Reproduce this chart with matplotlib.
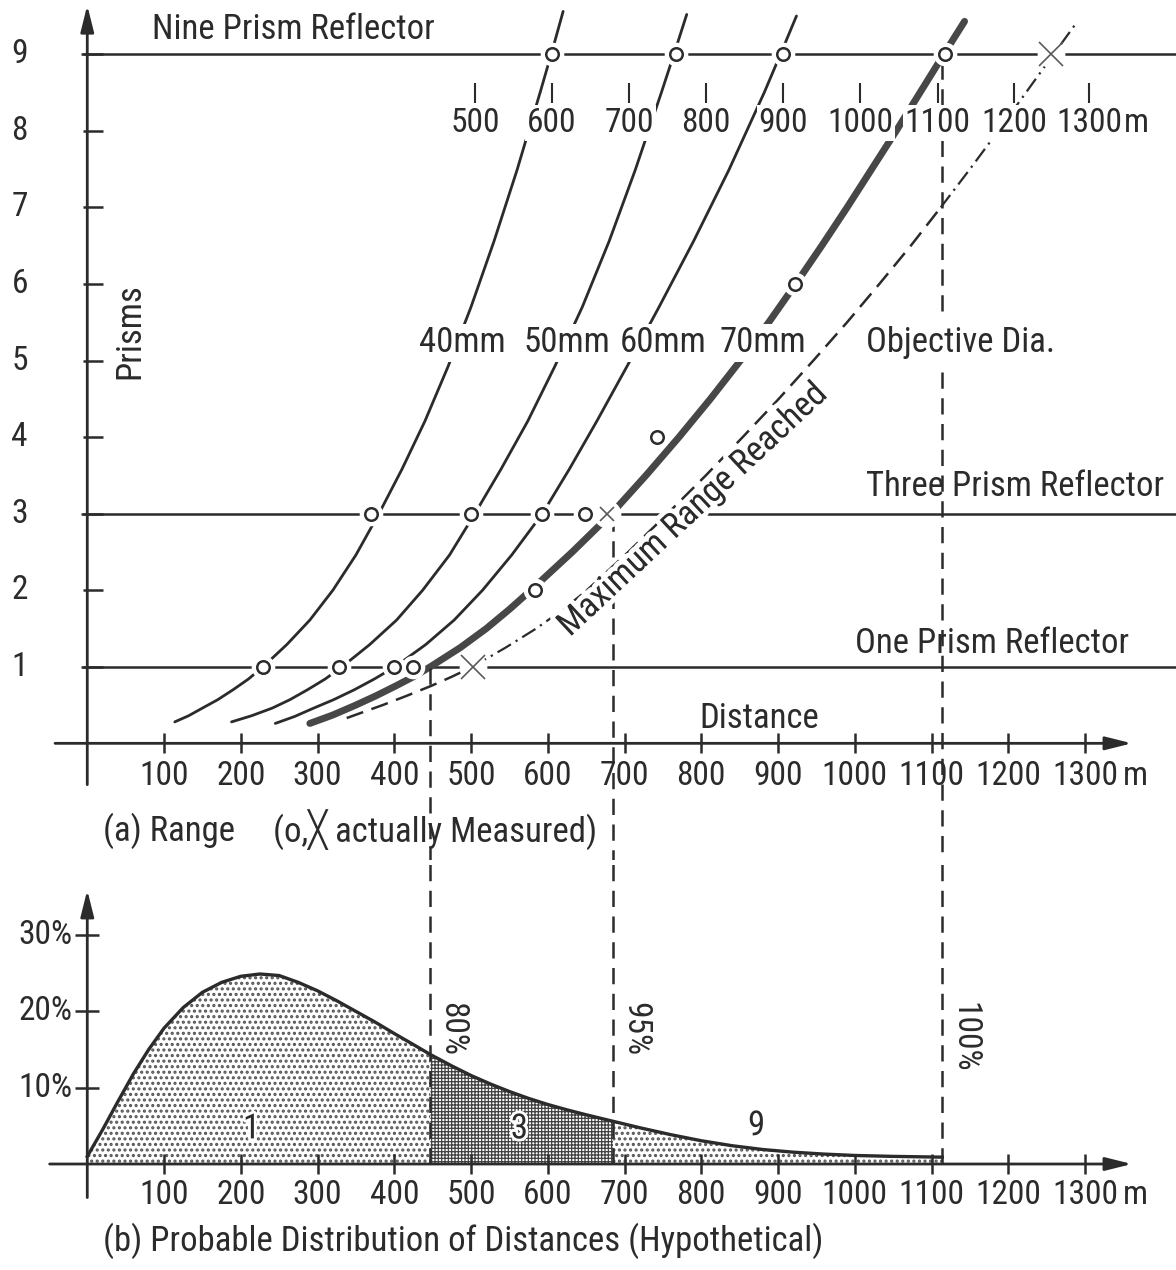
import os
import matplotlib
matplotlib.use("Agg")
import matplotlib.pyplot as plt
import matplotlib.patheffects as pe
from matplotlib import font_manager

# ---------------- data ----------------
# (a) range curves: distance [m] vs number of prisms
dist_40 = [114, 132, 150, 170, 190, 210, 229, 260, 290, 320, 350, 380, 410, 440, 470, 500, 530,
           560, 590, 605, 620]
prisms_40 = [0.28, 0.36, 0.46, 0.57, 0.70, 0.84, 1.00, 1.29, 1.61, 2.00, 2.46, 3.00, 3.58, 4.21,
             4.92, 5.70, 6.56, 7.49, 8.50, 9.02, 9.56]

dist_50 = [188, 214, 241, 264, 287, 310, 332, 368, 403, 437, 472, 505, 539, 574, 609, 645, 680,
           714, 748, 765, 781]
prisms_50 = [0.28, 0.36, 0.46, 0.57, 0.70, 0.84, 1.00, 1.29, 1.61, 2.00, 2.46, 3.00, 3.58, 4.21,
             4.92, 5.70, 6.56, 7.49, 8.50, 9.02, 9.52]

dist_60 = [245, 270, 295, 321, 348, 374, 401, 441, 478, 515, 553, 593, 628, 664, 703, 745, 790,
           836, 882, 904, 924]
prisms_60 = [0.26, 0.35, 0.46, 0.57, 0.70, 0.84, 1.00, 1.29, 1.61, 2.00, 2.46, 3.00, 3.58, 4.21,
             4.92, 5.70, 6.56, 7.49, 8.50, 9.02, 9.50]

dist_70 = [290, 320, 350, 376, 402, 425, 447, 486, 520, 550, 578, 632, 683, 728, 771, 812, 851,
           888, 923, 957, 990, 1022, 1054, 1085, 1116, 1143]
prisms_70 = [0.26, 0.37, 0.50, 0.62, 0.75, 0.87, 1.00, 1.25, 1.50, 1.75, 2.00, 2.50, 3.00, 3.50,
             4.00, 4.50, 5.00, 5.50, 6.00, 6.50, 7.00, 7.50, 8.00, 8.50, 9.00, 9.43]

dist_max = [338, 360, 385, 416, 448, 475, 502, 545, 585, 620, 651, 705, 756, 806, 854, 901, 946,
            990, 1032, 1073, 1112, 1150, 1187, 1223, 1259, 1288]
prisms_max = [0.33, 0.41, 0.50, 0.62, 0.75, 0.87, 1.00, 1.25, 1.50, 1.75, 2.00, 2.50, 3.00, 3.50,
              4.00, 4.50, 5.00, 5.50, 6.00, 6.50, 7.00, 7.50, 8.00, 8.50, 9.00, 9.40]

# measured points
meas_dist = [229, 328, 400, 425, 583, 370, 500, 592, 648, 742, 922, 605, 767, 907, 1118]
meas_prisms = [1, 1, 1, 1, 2, 3, 3, 3, 3, 4, 6, 9, 9, 9, 9]
cross_dist = [502, 677, 1256]
cross_prisms = [1, 3, 9]

reflector_prisms = [1, 3, 9]
reflector_names = ["One Prism Reflector", "Three Prism Reflector", "Nine Prism Reflector"]

dia_labels = ["40mm", "50mm", "60mm", "70mm"]
dia_label_dist = [488, 625, 750, 880]

x_ticks = [100, 200, 300, 400, 500, 600, 700, 800, 900, 1000, 1100, 1200, 1300]
y_ticks = [1, 2, 3, 4, 5, 6, 7, 8, 9]
row_dist = [505, 605, 706, 806, 907, 1007, 1108, 1208, 1305]
row_labels = ["500", "600", "700", "800", "900", "1000", "1100", "1200", "1300"]

# split distances (80 %, 95 %, 100 %) and where they start in (a)
split_dist = [447, 685, 1114]
split_start = [0.98, 2.98, 8.88]
split_labels = ["80%", "95%", "100%"]

# (b) hypothetical distribution of distances [%]
pdf_dist = [0, 20, 40, 60, 80, 100, 125, 150, 175, 200, 225, 250, 275, 300, 325, 350, 375, 400,
            425, 447, 475, 500, 525, 550, 575, 600, 625, 650, 685, 720, 760, 800, 840, 880, 920,
            960, 1000, 1050, 1114]
pdf_pct = [1.0, 4.5, 8.2, 11.8, 15.0, 17.8, 20.5, 22.5, 23.8, 24.6, 24.9, 24.7, 23.8, 22.7, 21.4,
           20.0, 18.6, 17.1, 15.65, 14.35, 12.85, 11.6, 10.5, 9.5, 8.6, 7.8, 7.1, 6.45, 5.6, 4.75,
           3.85, 3.05, 2.4, 1.9, 1.55, 1.3, 1.12, 1.0, 0.9]
pct_ticks = [10, 20, 30]
region_labels = ["1", "3", "9"]
region_label_dist = [214, 563, 872]
region_label_pct = [4.6, 4.6, 5.0]


# ---------------- font: a narrow sans if one is installed ----------------
def pick_narrow_font():
    wanted = ["Liberation Sans Narrow", "Roboto Condensed", "Noto Sans Condensed",
              "Open Sans Condensed", "DejaVu Sans Condensed", "Noto Sans", "Open Sans",
              "DejaVu Sans", "Roboto"]
    found = []
    for f in font_manager.fontManager.ttflist:
        base = os.path.basename(f.fname).lower()
        if f.name not in wanted or f.style != "normal":
            continue
        if any(w in base for w in ("bold", "italic", "light", "medium", "black", "thin",
                                   "semi", "extra", "ultra", "oblique")):
            continue
        if "condensed" in base or "narrow" in base or "narrow" in f.name.lower() \
                or "condensed" in f.name.lower():
            found.append(f)
    found.sort(key=lambda f: wanted.index(f.name))
    return found[0] if found else None


narrow = pick_narrow_font()
if narrow is not None:
    plt.rcParams["font.family"] = [narrow.name, "DejaVu Sans"]
    plt.rcParams["font.stretch"] = narrow.stretch
    FS = 24      # numbers
    FW = 25      # words
else:
    plt.rcParams["font.family"] = ["Liberation Sans", "DejaVu Sans"]
    FS = 22
    FW = 22

INK = "#2b2b2b"
THICK = "#474747"
DASH = (0, (6.5, 3.8))
ARROW = dict(arrowstyle="-|>,head_length=0.8,head_width=0.2", color=INK, lw=2,
             mutation_scale=20, shrinkA=0, shrinkB=0)
white_bg = dict(facecolor="white", edgecolor="none", pad=2)

fig = plt.figure(figsize=(11.76, 12.70), dpi=100)
XLIM = (-113.7, 1418.5)

# ======== (a) Range ========
ax = fig.add_axes([0, 0.32283, 1, 0.67717])
ax.set_xlim(XLIM)
ax.set_ylim(-1.524, 9.709)
ax.axis("off")

ax.annotate("", xy=(1361, 0), xytext=(-42, 0), arrowprops=ARROW)
ax.annotate("", xy=(0, 9.64), xytext=(0, -0.54), arrowprops=ARROW)
ax.vlines(x_ticks, -0.13, 0.14, color=INK, lw=1.8)
ax.hlines(y_ticks, -5, 20, color=INK, lw=1.8)
for v in x_ticks:
    ax.text(v, -0.54, str(v), ha="center", va="baseline", fontsize=FS, color=INK)
ax.text(1349, -0.54, "m", ha="left", va="baseline", fontsize=FS, color=INK)
for v in y_ticks:
    ax.text(-88, v, str(v), ha="center", va="center", fontsize=FS, color=INK)
ax.text(56, 5.38, "Prisms", rotation=90, ha="center", va="center", fontsize=FW, color=INK)
ax.text(876, 0.33, "Distance", ha="center", va="center", fontsize=FW, color=INK)

# reflector lines
ax.hlines(reflector_prisms, -8, 1420, color=INK, lw=1.8, zorder=1)
ax.text(1000, 1.31, reflector_names[0], ha="left", va="center", fontsize=FW, color=INK)
ax.text(1014, 3.35, reflector_names[1], ha="left", va="center", fontsize=FW, color=INK)
ax.text(84, 9.32, reflector_names[2], ha="left", va="center", fontsize=FW, color=INK)

# scale row under the nine prism line
ax.vlines(row_dist, 8.36, 8.62, color=INK, lw=1.5)
for d, lab in zip(row_dist, row_labels):
    ax.text(d, 7.98, lab, ha="center", va="baseline", fontsize=FS, color=INK,
            bbox=dict(facecolor="white", edgecolor="none", pad=1.5), zorder=6)
ax.text(1350, 7.98, "m", ha="left", va="baseline", fontsize=FS, color=INK, zorder=6)

# range curves
for dd, pp in [(dist_40, prisms_40), (dist_50, prisms_50), (dist_60, prisms_60)]:
    ax.plot(dd, pp, color=INK, lw=2, solid_capstyle="round", solid_joinstyle="round", zorder=2)
ax.plot(dist_70, prisms_70, color=THICK, lw=5, solid_capstyle="round", solid_joinstyle="round",
        zorder=2)

# maximum range line: dashed, dash-dot near the crosses
ax.plot(dist_max[:7], prisms_max[:7], color=INK, lw=1.8, ls=(0, (7, 3.5)), zorder=2)
ax.plot(dist_max[6:11], prisms_max[6:11], color=INK, lw=1.6, ls=(0, (7, 2.5, 1, 2.5)), zorder=2)
ax.plot(dist_max[10:21], prisms_max[10:21], color=INK, lw=1.8, ls=(0, (7, 3.5)), zorder=2)
ax.plot(dist_max[20:], prisms_max[20:], color=INK, lw=1.6, ls=(0, (7, 2.5, 1, 2.5)), zorder=2)
ax.text(789, 3.05, "Maximum Range Reached", rotation=43, rotation_mode="anchor",
        ha="center", va="center", fontsize=FW, color=INK, zorder=6,
        path_effects=[pe.withStroke(linewidth=7, foreground="white")])

for lab, d in zip(dia_labels, dia_label_dist):
    ax.text(d, 5.23, lab, ha="center", va="center", fontsize=FW, color=INK,
            bbox=white_bg, zorder=6)
ax.text(1015, 5.24, "Objective Dia.", ha="left", va="center", fontsize=FW, color=INK,
        bbox=dict(facecolor="white", edgecolor="none", pad=6), zorder=6)

# measured points (white halo cuts the lines around them)
ax.plot(meas_dist, meas_prisms, "o", ms=17, mfc="white", mec="none", zorder=4)
ax.plot(meas_dist, meas_prisms, "o", ms=9, mfc="white", mec=INK, mew=1.8, zorder=5)
ax.plot(cross_dist, cross_prisms, "o", ms=20, mfc="white", mec="none", zorder=4)
ax.plot(cross_dist[::2], cross_prisms[::2], "x", ms=17, mec="#5a5a5a", mew=1.2, zorder=5)
ax.plot(cross_dist[1:2], cross_prisms[1:2], "x", ms=10, mec="#5a5a5a", mew=1.2, zorder=5)

# split lines, top part
ax.vlines(split_dist, split_start, -1.524, colors=INK, lw=1.8, linestyles=[DASH], zorder=3)

ax.text(20, -1.14, "(a) Range", ha="left", va="center", fontsize=FW, color=INK)
ax.text(242, -1.14, "(o,\u2573 actually Measured)", ha="left", va="center", fontsize=FW,
        color=INK)

# ======== (b) Distribution ========
bx = fig.add_axes([0, 0, 1, 0.32283])
bx.set_xlim(XLIM)
bx.set_ylim(-13.89, 39.84)
bx.axis("off")

bx.annotate("", xy=(1361, 0), xytext=(-49, 0), arrowprops=ARROW)
bx.annotate("", xy=(0, 35.9), xytext=(0, -4.4), arrowprops=ARROW)
bx.vlines(x_ticks, -1.3, 1.3, color=INK, lw=1.8)
bx.hlines(pct_ticks, -16, 15, color=INK, lw=1.8)
for v in x_ticks:
    bx.text(v, -5.3, str(v), ha="center", va="baseline", fontsize=FS, color=INK)
bx.text(1349, -5.3, "m", ha="left", va="baseline", fontsize=FS, color=INK)
for v in pct_ticks:
    bx.text(-19, v, f"{v}%", ha="right", va="center", fontsize=FS, color=INK)

in1 = [d <= split_dist[0] for d in pdf_dist]
in3 = [split_dist[0] <= d <= split_dist[1] for d in pdf_dist]
in9 = [split_dist[1] <= d <= split_dist[2] for d in pdf_dist]
with plt.rc_context({"hatch.linewidth": 1.5}):
    bx.fill_between(pdf_dist, 0, pdf_pct, where=in1, facecolor="white", edgecolor="#555555",
                    hatch="...", lw=0, zorder=1)
    bx.fill_between(pdf_dist, 0, pdf_pct, where=in9, facecolor="white", edgecolor="#555555",
                    hatch="...", lw=0, zorder=1)
with plt.rc_context({"hatch.linewidth": 0.9}):
    bx.fill_between(pdf_dist, 0, pdf_pct, where=in3, facecolor="white", edgecolor="#404040",
                    hatch="+++++", lw=0, zorder=1)
bx.plot(pdf_dist, pdf_pct, color=INK, lw=2.4, zorder=3)

for lab, d, p in zip(region_labels, region_label_dist, region_label_pct):
    bx.text(d, p, lab, ha="center", va="center", fontsize=FW, color=INK, zorder=5,
            path_effects=[pe.withStroke(linewidth=4, foreground="white")])

# split lines, bottom part
bx.vlines(split_dist, 0, 39.84, colors=INK, lw=1.8, linestyles=[DASH], zorder=3)
for d, lab in zip(split_dist, split_labels):
    bx.text(d + 8, 21.2, lab, rotation=-90, ha="left", va="top", fontsize=FS, color=INK,
            zorder=5)

bx.text(20, -10, "(b) Probable Distribution of Distances (Hypothetical)", ha="left",
        va="center", fontsize=FW, color=INK)

fig.savefig("out.png", dpi=100, facecolor="white")
